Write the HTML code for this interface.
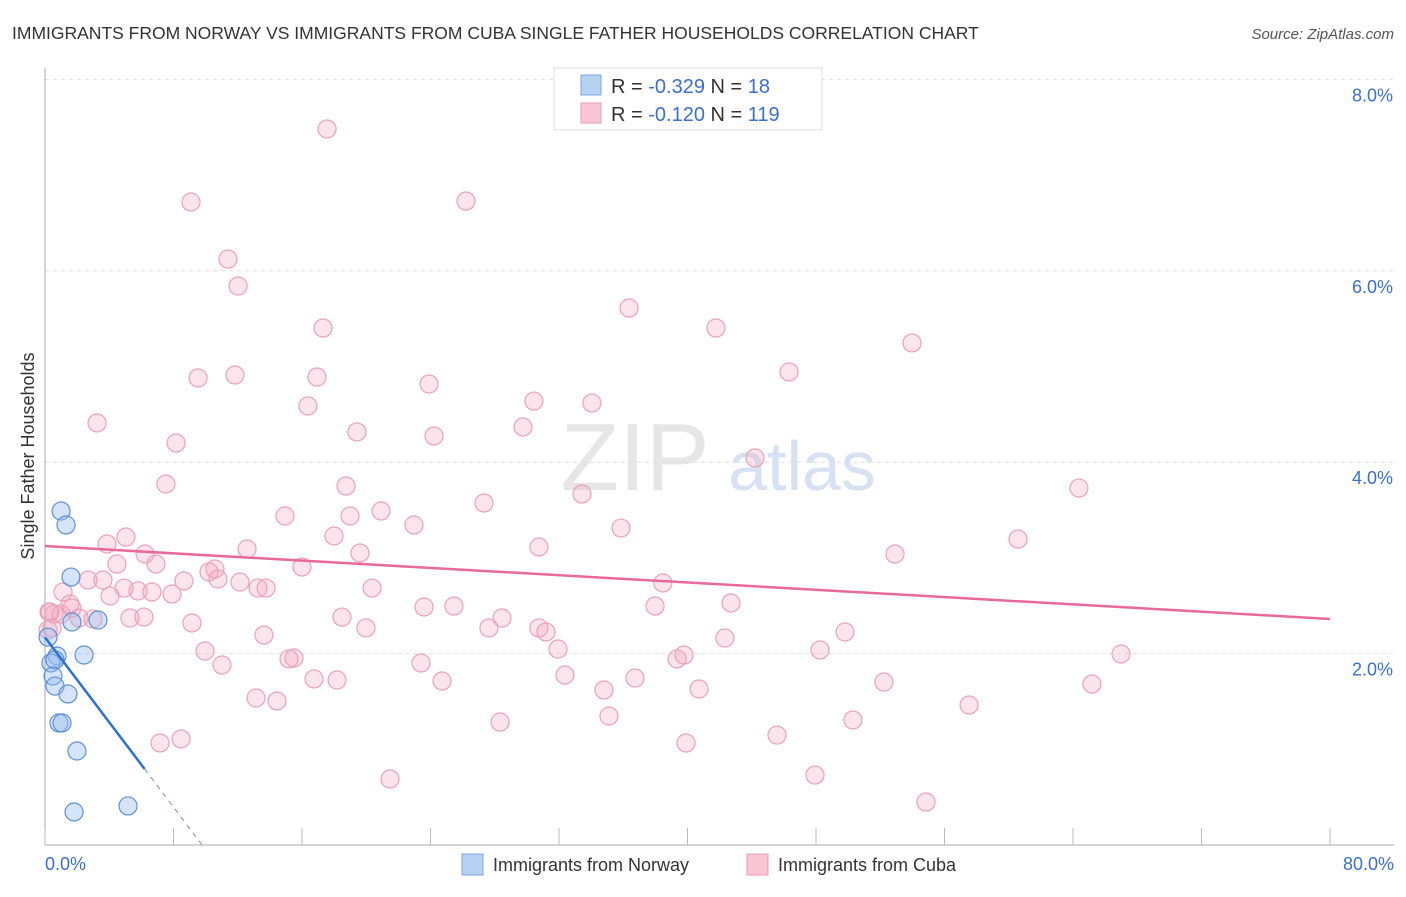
<!DOCTYPE html>
<html><head><meta charset="utf-8"><style>
body{margin:0;background:#fff;font-family:"Liberation Sans",sans-serif}
svg text{font-family:"Liberation Sans",sans-serif}
</style></head><body>
<svg id="c" width="1406" height="892">
<text x="12" y="39" font-size="17.5" fill="#333">IMMIGRANTS FROM NORWAY VS IMMIGRANTS FROM CUBA SINGLE FATHER HOUSEHOLDS CORRELATION CHART</text>
<text x="1394" y="39" font-size="15" fill="#555" font-style="italic" text-anchor="end">Source: ZipAtlas.com</text>
<text x="635" y="490" font-size="96" fill="#e6e6e6" text-anchor="middle" font-family="Liberation Serif">ZIP</text>
<text x="802" y="490" font-size="70" fill="#d6e2f4" text-anchor="middle">atlas</text>
<g id="grid"></g>
<g id="axes"></g>
<g id="pts"></g>
<g id="trend"></g>
<text transform="translate(34,456) rotate(-90)" font-size="18" fill="#333" text-anchor="middle">Single Father Households</text>
<g>
<rect x="554" y="68" width="268" height="62" fill="#fff" stroke="#ddd"/>
<rect x="581" y="75" width="20" height="20" fill="#b7d1f3" stroke="#7aa5e0"/>
<rect x="581" y="103" width="20" height="20" fill="#f8c6d5" stroke="#ec9ab5"/>
<text x="611" y="93" font-size="20" fill="#333">R = <tspan fill="#3a6fd0">-0.329</tspan>   N = <tspan fill="#3a6fd0"> 18</tspan></text>
<text x="611" y="121" font-size="20" fill="#333">R = <tspan fill="#3a6fd0">-0.120</tspan>   N = <tspan fill="#3a6fd0">119</tspan></text>
</g>
<g>
<rect x="462" y="854" width="21" height="21" fill="#b7d1f3" stroke="#7aa5e0"/>
<text x="493" y="871" font-size="18" fill="#333">Immigrants from Norway</text>
<rect x="747" y="854" width="21" height="21" fill="#f8c6d5" stroke="#ec9ab5"/>
<text x="778" y="871" font-size="18" fill="#333">Immigrants from Cuba</text>
</g>
</svg>
<script>
const yTicks=[2,4,6,8];
const yTickLabels=["2.0%","4.0%","6.0%","8.0%"];
const xTickVals=[0,8,16,24,32,40,48,56,64,72,80];
const xEndLabels=["0.0%","80.0%"];
const cubaPx=[[327,129],[191,202],[466,201],[228,259],[238,286],[629,308],[323,328],[716,328],[912,343],[198,378],[235,375],[317,377],[789,372],[429,384],[534,401],[592,403],[308,406],[97,423],[176,443],[357,432],[523,427],[434,436],[755,458],[166,484],[346,486],[1079,488],[582,494],[484,503],[285,516],[350,516],[381,511],[414,525],[621,528],[334,536],[126,537],[107,544],[247,549],[539,547],[360,553],[145,554],[1018,539],[895,554],[117,564],[156,564],[302,567],[215,569],[209,572],[88,580],[103,580],[184,581],[240,582],[218,579],[663,583],[124,588],[138,591],[152,592],[172,594],[63,592],[110,596],[258,588],[266,588],[372,588],[49,612],[54,614],[61,614],[70,604],[72,608],[79,618],[93,619],[130,618],[144,617],[342,617],[502,618],[731,603],[454,606],[424,607],[655,606],[192,623],[366,628],[539,628],[546,632],[489,628],[264,635],[845,632],[725,638],[205,651],[558,649],[820,650],[1121,654],[294,658],[289,659],[684,655],[677,659],[222,665],[421,663],[565,675],[635,678],[314,679],[337,680],[442,681],[884,682],[1092,684],[604,690],[699,689],[256,698],[277,701],[969,705],[609,716],[500,722],[853,720],[777,735],[160,743],[181,739],[686,743],[390,779],[815,775],[926,802],[48,630],[50,612],[52,628]];
const norwayPx=[[61,511],[66,525],[71,577],[98,620],[72,622],[84,655],[57,656],[51,663],[55,660],[48,637],[53,676],[55,686],[68,694],[59,723],[62,723],[77,751],[74,812],[128,806]];
// data values (percent)
const cubaX=cubaPx.map(p=>+((p[0]-45)/16.0625).toFixed(2));
const cubaY=cubaPx.map(p=>+((845-p[1])/95.7).toFixed(3));
const norwayX=norwayPx.map(p=>+((p[0]-45)/16.0625).toFixed(2));
const norwayY=norwayPx.map(p=>+((845-p[1])/95.7).toFixed(3));
const cubaTrend=[3.124,2.362];
const norwayTrend=[2.17,0.0];
const norwaySolidEnd=6.2, norwayZeroX=9.78;

const X=v=>45+v*16.0625, Y=v=>845-v*95.7;
const NS="http://www.w3.org/2000/svg";
function mk(tag,parent,attrs){const e=document.createElementNS(NS,tag);for(const k in attrs)e.setAttribute(k,attrs[k]);document.getElementById(parent).appendChild(e);return e;}
yTicks.forEach((t,i)=>{
 const l=mk('line','grid',{x1:45,x2:1394,y1:Y(t),y2:Y(t),stroke:'#ddd','stroke-dasharray':'4,4'});
 
 
 const tx=mk('text','grid',{x:1393,y:Y(t)+22,'font-size':18,fill:'#3a6fd0','text-anchor':'end'});
 tx.textContent=yTickLabels[i];
 
 
});
let a=mk('line','axes',{x1:45,x2:45,y1:68,y2:845,stroke:'#aaa'});


a=mk('line','axes',{x1:45,x2:1394,y1:845,y2:845,stroke:'#aaa'});


xTickVals.forEach(v=>{const t=mk('line','axes',{x1:X(v),x2:X(v),y1:828,y2:845,stroke:'#bbb'});
 
 });
[[0,'start',45],[80,'end',1394]].forEach((d,i)=>{const t=mk('text','axes',{x:d[2],y:870,'font-size':18,fill:'#3a6fd0','text-anchor':d[1]});t.textContent=xEndLabels[i];
 
 });
cubaX.forEach((v,i)=>{const c=mk('circle','pts',{cx:X(v),cy:Y(cubaY[i]),r:9,fill:'rgba(242,166,192,0.3)',stroke:'#eba0ba','stroke-width':1.2});
 
 });
norwayX.forEach((v,i)=>{const c=mk('circle','pts',{cx:X(v),cy:Y(norwayY[i]),r:9,fill:'rgba(150,188,238,0.4)',stroke:'#5d90d8','stroke-width':1.2});
 
 });
let t=mk('line','trend',{x1:X(0),y1:Y(cubaTrend[0]),x2:X(80),y2:Y(cubaTrend[1]),stroke:'#e8699a','stroke-width':2.5});


const nY=x=>norwayTrend[0]+(norwayTrend[1]-norwayTrend[0])*x/norwayZeroX;
t=mk('line','trend',{x1:X(0),y1:Y(nY(0)),x2:X(norwaySolidEnd),y2:Y(nY(norwaySolidEnd)),stroke:'#2c6fd6','stroke-width':2.5});


t=mk('line','trend',{x1:X(norwaySolidEnd),y1:Y(nY(norwaySolidEnd)),x2:X(norwayZeroX),y2:Y(0),stroke:'#6a8fd6','stroke-width':1,'stroke-dasharray':'5,5'});


</script>
</body></html>
